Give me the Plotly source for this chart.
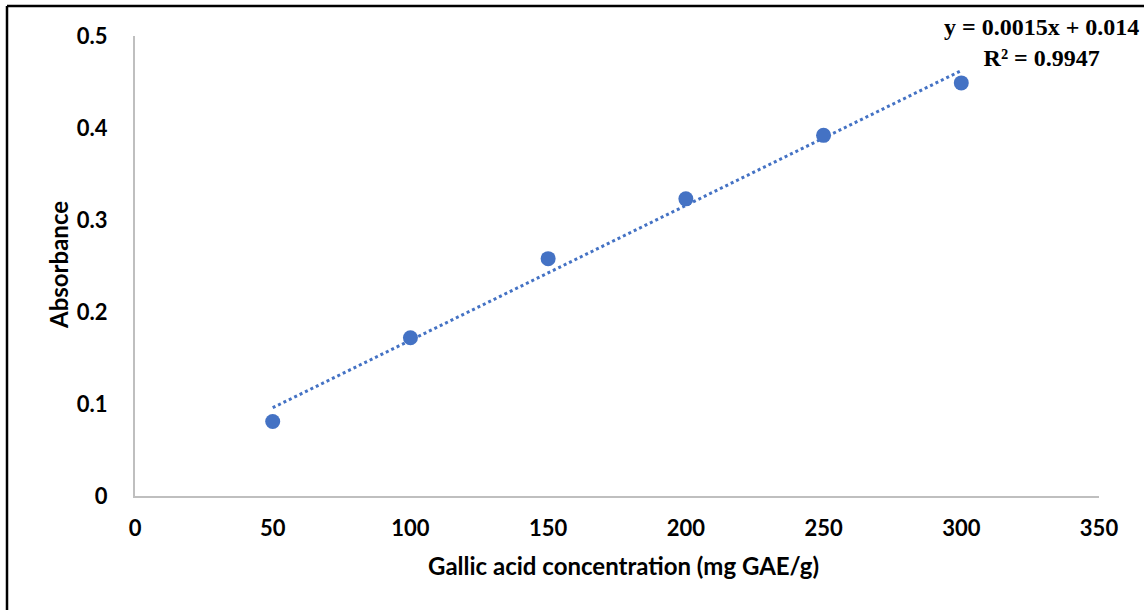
import numpy as np
import plotly.graph_objects as go

concentration = [50, 100, 150, 200, 250, 300]
absorbance = [0.081, 0.172, 0.258, 0.323, 0.392, 0.449]
x_ticks = [0, 50, 100, 150, 200, 250, 300, 350]
y_ticks = [0, 0.1, 0.2, 0.3, 0.4, 0.5]
y_tick_labels = ["0", "0.1", "0.2", "0.3", "0.4", "0.5"]
equation_text = "y = 0.0015x + 0.014<br>R² = 0.9947"

BLUE = "#4472C4"
W, H = 1144, 610
ML, MR, MT, MB = 135, 45, 36, 114
PW, PH = W - ML - MR, H - MT - MB

# linear trendline from data
slope, intercept = np.polyfit(concentration, absorbance, 1)
trend_x = [min(concentration), max(concentration)]
trend_y = [slope * v + intercept for v in trend_x]

fig = go.Figure()
fig.add_trace(go.Scatter(
    x=trend_x, y=trend_y, mode="lines",
    line=dict(color=BLUE, width=3, dash="dot"),
    hoverinfo="skip", showlegend=False,
))
fig.add_trace(go.Scatter(
    x=concentration, y=absorbance, mode="markers",
    marker=dict(color=BLUE, size=15, line=dict(width=0)),
    showlegend=False,
))

tick_font = dict(family="Lato", size=22, color="black", weight="bold")

fig.update_xaxes(
    range=[0, 350], tickvals=x_ticks, ticktext=[str(v) for v in x_ticks],
    showline=True, linecolor="#BFBFBF", linewidth=2, showgrid=False,
    zeroline=False, ticks="", tickfont=tick_font, ticklabelstandoff=12,
)
fig.update_yaxes(
    range=[0, 0.5], tickvals=y_ticks, ticktext=y_tick_labels,
    showline=True, linecolor="#BFBFBF", linewidth=2, showgrid=False,
    zeroline=False, ticks="", tickfont=tick_font, ticklabelstandoff=21,
)

annotations = [
    dict(text="Gallic acid concentration (mg GAE/g)", xref="paper", yref="paper",
         x=(623 - ML) / PW, y=-(565 - MT - PH) / PH, xanchor="center", yanchor="middle",
         showarrow=False, font=dict(family="Lato", size=24, color="black", weight="bold")),
    dict(text="Absorbance", xref="paper", yref="paper",
         x=(58 - ML) / PW, y=1 - (265 - MT) / PH, xanchor="center", yanchor="middle",
         textangle=-90, showarrow=False,
         font=dict(family="Lato", size=24, color="black", weight="bold")),
    dict(text=equation_text, xref="paper", yref="paper",
         x=(1041 - ML) / PW, y=1 + (MT - 12) / PH, xanchor="center", yanchor="top",
         align="center", showarrow=False,
         font=dict(family="Liberation Serif", size=24, color="black", weight="bold")),
]

left_px, top_px = 7, 6
bx0 = (left_px - ML) / PW
by1 = 1 + (MT - top_px) / PH
shapes = [
    dict(type="line", xref="paper", yref="paper", x0=bx0, x1=bx0, y0=-0.3, y1=by1,
         line=dict(color="black", width=2.5)),
    dict(type="line", xref="paper", yref="paper", x0=bx0, x1=1.1, y0=by1, y1=by1,
         line=dict(color="black", width=2.5)),
]

fig.update_layout(
    width=W, height=H,
    margin=dict(l=ML, r=MR, t=MT, b=MB),
    paper_bgcolor="white", plot_bgcolor="white",
    annotations=annotations, shapes=shapes,
    showlegend=False,
)

fig.write_html("out.html")
